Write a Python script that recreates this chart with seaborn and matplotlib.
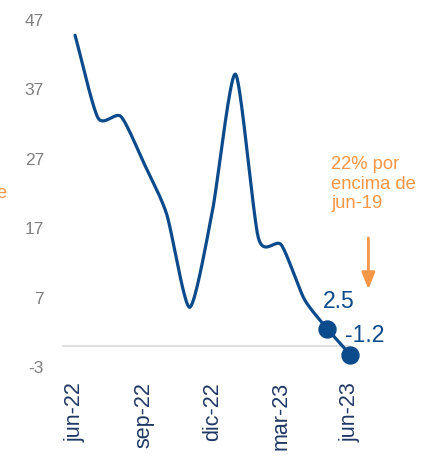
import numpy as np
import pandas as pd
import seaborn as sns
import matplotlib.pyplot as plt

# monthly series
months = ['jun-22', 'jul-22', 'ago-22', 'sep-22', 'oct-22', 'nov-22', 'dic-22',
          'ene-23', 'feb-23', 'mar-23', 'abr-23', 'may-23', 'jun-23']
values = [44.8, 32.9, 33.1, 26.4, 19.0, 5.6, 19.6, 39.2, 15.6, 14.6, 6.8, 2.5, -1.2]
tick_labels = ['jun-22', 'sep-22', 'dic-22', 'mar-23', 'jun-23']
tick_pos = [0, 3, 6, 9, 12]
y_ticks = [-3, 7, 17, 27, 37, 47]

navy = '#0B4A8B'
orange = '#F79646'

df = pd.DataFrame({'month': months, 'value': values})
df['idx'] = np.arange(len(df))


def smooth(x, y, n=20, k=0.7):
    # cardinal spline, roughly what excel does for a smoothed line
    x = np.asarray(x, float)
    y = np.asarray(y, float)
    px = np.concatenate([[2 * x[0] - x[1]], x, [2 * x[-1] - x[-2]]])
    py = np.concatenate([[2 * y[0] - y[1]], y, [2 * y[-1] - y[-2]]])
    xs, ys = [], []
    t = np.linspace(0, 1, n, endpoint=False)
    h00 = 2 * t ** 3 - 3 * t ** 2 + 1
    h10 = t ** 3 - 2 * t ** 2 + t
    h01 = -2 * t ** 3 + 3 * t ** 2
    h11 = t ** 3 - t ** 2
    for i in range(1, len(px) - 2):
        for p, out in ((px, xs), (py, ys)):
            m1 = k * 0.5 * (p[i + 1] - p[i - 1])
            m2 = k * 0.5 * (p[i + 2] - p[i])
            out.extend(h00 * p[i] + h10 * m1 + h01 * p[i + 1] + h11 * m2)
    xs.append(x[-1])
    ys.append(y[-1])
    return pd.DataFrame({'x': xs, 'y': ys})


sns.set_style('white')
plt.rcParams['font.family'] = ['Liberation Sans', 'DejaVu Sans']

fig = plt.figure(figsize=(4.22, 4.57), dpi=100)
ax = fig.add_axes([62 / 422, 1 - 367 / 457, 360 / 422, 347 / 457])

main = df.iloc[:12]
sm = smooth(main['idx'], main['value'])
sns.lineplot(data=sm, x='x', y='y', ax=ax, color=navy, lw=2.3, sort=False)

last = df.iloc[11:]
sns.lineplot(data=last, x='idx', y='value', ax=ax, color=navy, lw=2.3)
sns.scatterplot(data=last, x='idx', y='value', ax=ax, color=navy, s=150,
                edgecolor=navy, zorder=5)

ax.axhline(0, xmin=0, xmax=(350 - 62) / 360, color='#D9D9D9', lw=1.2, zorder=0)

ax.set_xlim(-0.57, 15.14)
ax.set_ylim(-3, 47)
ax.set_xticks(tick_pos)
ax.set_xticklabels(tick_labels, rotation=90, color='#1F3864', fontsize=15.5)
ax.set_yticks(y_ticks)
ax.set_yticklabels([str(v) for v in y_ticks], color='#7F7F7F', fontsize=12.5)
ax.tick_params(axis='y', length=0, pad=13)
ax.tick_params(axis='x', length=0, pad=11)
ax.set_xlabel('')
ax.set_ylabel('')
for s in ax.spines.values():
    s.set_visible(False)

fig.text(339 / 422, 1 - 301 / 457, '2.5', color=navy, fontsize=16.5, ha='center', va='center')
fig.text(365 / 422, 1 - 335 / 457, '-1.2', color=navy, fontsize=16.5, ha='center', va='center')

ax.annotate('', xy=(12.8, 7.8), xytext=(12.8, 16.0),
            arrowprops=dict(arrowstyle='-|>,head_width=0.4,head_length=1.0',
                            color=orange, lw=2))
fig.text(331 / 422, 1 - 156 / 457, '22% por\nencima de\njun-19', color=orange,
         fontsize=13.2, ha='left', va='top', linespacing=1.2)
fig.text(7 / 422, 1 - 193 / 457, 'de', color=orange, fontsize=13, ha='right', va='center')

fig.savefig('out.png', dpi=100)
